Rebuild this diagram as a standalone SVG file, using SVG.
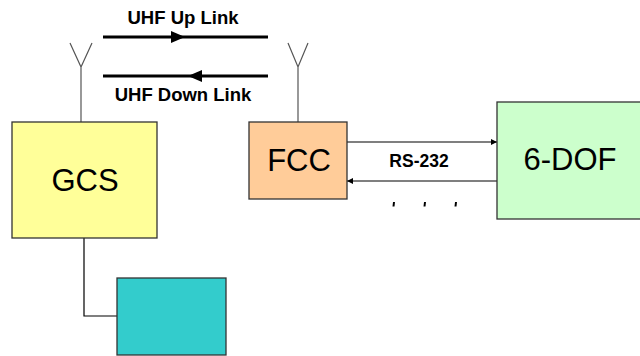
<svg xmlns="http://www.w3.org/2000/svg" width="640" height="356" viewBox="0 0 640 356">
<style>
.box{stroke:#333;stroke-width:1.3}
.big{font-family:"Liberation Sans",Arial,sans-serif;font-size:31px;text-anchor:middle;fill:#000}
.lbl{font-family:"Liberation Sans",Arial,sans-serif;font-weight:bold;text-anchor:middle;fill:#000}
.ant{stroke:#555;stroke-width:1.2;fill:none}
.thick{stroke:#000;stroke-width:3;fill:none}
.thin{stroke:#000;stroke-width:1.2;fill:none}
</style>
<defs>
<marker id="ah" viewBox="0 0 10 10" refX="10" refY="5" markerWidth="9" markerHeight="6" markerUnits="userSpaceOnUse" orient="auto"><path d="M0,0 L10,5 L0,10 z" fill="#000"/></marker>
</defs>
<rect width="640" height="356" fill="#fff"/>
<g id="connectors">
<path class="ant" d="M81,122 V67 M70,43 L81,67 L92,43"/>
<path class="ant" d="M298,122 V67 M288,43 L298,67 L308,43"/>
<path class="thick" d="M103,37 H268"/>
<path d="M171,31 L185,37 L171,43 z" fill="#000"/>
<path class="thick" d="M268,76 H103"/>
<path d="M202,70 L188,76 L202,82 z" fill="#000"/>
<path class="thin" d="M347,142 H497" marker-end="url(#ah)"/>
<path class="thin" d="M497,181 H347" marker-end="url(#ah)"/>
<path class="thin" d="M84,238 V316 H117"/>
<path d="M394,202 l-0.5,4.5 M425,202 l-0.5,4.5 M456,202 l-0.5,4.5" stroke="#000" stroke-width="2"/>
</g>
<g id="labels">
<text class="lbl" x="183" y="24" font-size="18.5">UHF Up Link</text>
<text class="lbl" x="183" y="101" font-size="18.5">UHF Down Link</text>
<text class="lbl" x="419" y="167" font-size="17.5">RS-232</text>
</g>
<g id="GCS">
<rect class="box" x="12" y="122" width="145" height="116" fill="#FFFF99"/>
<text class="big" x="85" y="191">GCS</text>
</g>
<g id="FCC">
<rect class="box" x="249" y="122" width="98" height="77" fill="#FFCC99"/>
<text class="big" x="299" y="171">FCC</text>
</g>
<g id="DOF">
<rect class="box" x="497" y="102" width="145" height="117" fill="#CCFFCC"/>
<text class="big" x="570" y="170">6-DOF</text>
</g>
<g id="unit">
<rect class="box" x="117" y="278" width="109" height="77" fill="#33CCCC"/>
</g>
</svg>
